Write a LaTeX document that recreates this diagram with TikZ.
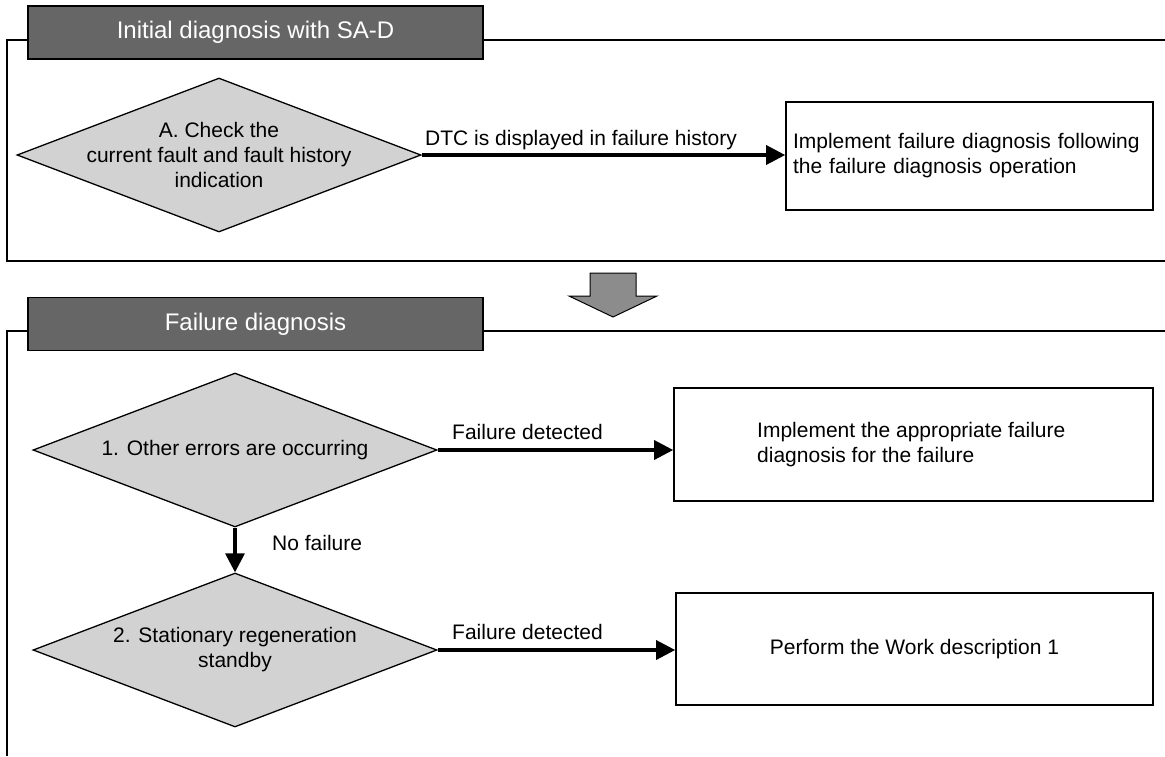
\documentclass[tikz,border=0pt]{standalone}
\usepackage{fontspec}
\setmainfont{Liberation Sans}
\usetikzlibrary{arrows.meta,shapes.geometric}
\definecolor{titlegray}{HTML}{666666}
\definecolor{diagray}{HTML}{D2D2D2}
\definecolor{arrowgray}{HTML}{8C8C8C}
\begin{document}
\begin{tikzpicture}[x=1pt,y=-1pt,
  frame/.style={line width=1.4pt,black},
  titlebar/.style={draw=black,line width=1.8pt,fill=titlegray,text=white,
    font=\fontsize{24}{28}\selectfont,minimum width=455pt,minimum height=53pt,inner sep=0pt},
  decision/.style={diamond,draw=black,line width=1.3pt,fill=diagray,
    minimum width=404pt,minimum height=154pt,inner sep=0pt},
  dtext/.style={font=\fontsize{21}{25}\selectfont,align=center,inner sep=0pt},
  procbox/.style={draw=black,line width=1.6pt,fill=white,inner sep=0pt,
    font=\fontsize{21}{25}\selectfont},
  lbl/.style={font=\fontsize{21}{25}\selectfont,inner sep=0pt},
  flow/.style={line width=3.2pt,-{Triangle[length=19pt,width=19pt]}}
]
\useasboundingbox (0,0) rectangle (1165,756);

% section frames
\draw[frame] (28,40) -- (7,40) -- (7,261) -- (1165,261);
\draw[frame] (480,40) -- (1165,40);
\draw[frame] (28,331) -- (7,331) -- (7,756);
\draw[frame] (480,331) -- (1165,331);

% title bars
\node[titlebar] (T1) at (255.5,32.5) {Initial diagnosis with SA-D};
\node[titlebar] (T2) at (255.5,324) {Failure diagnosis};

% down arrow between sections
\draw[line width=1pt,fill=arrowgray] (590,273) -- (636,273) -- (636,296) -- (657,296)
  -- (613,317) -- (569,296) -- (590,296) -- cycle;

% section 1
\node[decision] (A) at (219,155) {};
\node[dtext] (At) at (A.center) {A. Check the\\current fault and fault history\\indication};
\node[procbox,minimum width=367pt,minimum height=108pt,text width=353pt,align=left]
  (B1) at (969.5,156) {Implement failure diagnosis following\\the failure diagnosis operation};
\draw[flow] (A.east) -- (A.east -| B1.west);
\node[lbl,anchor=west] (L1) at (425,140) {DTC is displayed in failure history};

% section 2
\node[decision] (D1) at (235,450) {};
\node[dtext] (D1t) at (D1.center) {1. Other errors are occurring};
\node[decision] (D2) at (235,650) {};
\node[dtext] (D2t) at (D2.center) {2. Stationary regeneration\\standby};

\node[procbox,minimum width=479pt,minimum height=113pt] (B2) at (913.5,444.5) {};
\node[lbl,align=left,anchor=west] (B2t) at (757,444.5) {Implement the appropriate failure\\diagnosis for the failure};
\node[procbox,minimum width=477pt,minimum height=112pt] (B3) at (914.5,649) {Perform the Work description 1};

\draw[flow] (D1.east) -- (D1.east -| B2.west);
\node[lbl,anchor=west] (L2) at (452,432) {Failure detected};
\draw[flow] (D1.south) -- (D2.north);
\node[lbl,anchor=west] (L3) at (272,543) {No failure};
\draw[flow] (D2.east) -- (D2.east -| B3.west);
\node[lbl,anchor=west] (L4) at (452,632) {Failure detected};
\end{tikzpicture}
\end{document}
